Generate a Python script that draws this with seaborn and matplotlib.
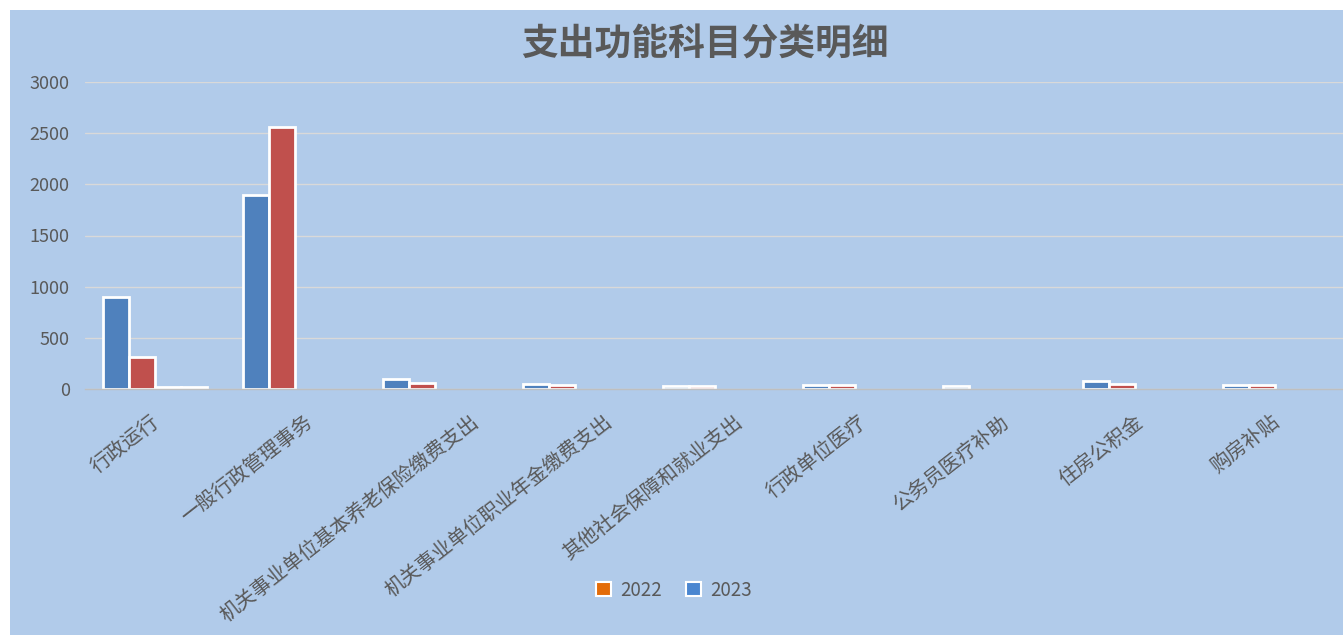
import matplotlib
matplotlib.use("Agg")
import matplotlib.pyplot as plt
import matplotlib.transforms as mtransforms
import seaborn as sns
import pandas as pd
from matplotlib.patches import Rectangle, Patch

categories = ["行政运行", "一般行政管理事务", "机关事业单位基本养老保险缴费支出",
              "机关事业单位职业年金缴费支出", "其他社会保障和就业支出", "行政单位医疗",
              "公务员医疗补助", "住房公积金", "购房补贴"]
series_names = ["s1", "s2", "s3", "s4"]
s1_values = [900, 1900, 100, 45, 25, 40, 25, 75, 35]
s2_values = [310, 2560, 60, 35, 25, 40, 0, 50, 35]
s3_values = [20, 0, 0, 0, 0, 0, 0, 0, 0]
s4_values = [20, 0, 0, 0, 0, 0, 0, 0, 0]
legend_labels = ["2022", "2023"]
yticks = [0, 500, 1000, 1500, 2000, 2500, 3000]

rows = []
for name, vals in zip(series_names, [s1_values, s2_values, s3_values, s4_values]):
    for c, v in zip(categories, vals):
        rows.append({"cat": c, "series": name, "val": v})
df = pd.DataFrame(rows)

sns.set_style("white")
plt.rcParams['font.family'] = ['Noto Sans CJK SC', 'DejaVu Sans']

W, H = 1343, 635
fig = plt.figure(figsize=(W / 100, H / 100), dpi=100)
fig.patch.set_facecolor("white")
bg = "#B1CBEA"
fig.patches.append(Rectangle((10 / W, 0), 1, 1 - 10 / H, transform=fig.transFigure,
                             facecolor=bg, edgecolor="none", zorder=-10))

ax = fig.add_axes([85 / W, 1 - 389 / H, 1260 / W, (389 - 82) / H])
ax.set_facecolor("none")

blue = "#4F81BD"
red = "#C0504D"
sns.barplot(data=df, x="cat", y="val", hue="series", order=categories,
            hue_order=series_names, palette=[blue, red, blue, red],
            edgecolor="white", linewidth=2, width=0.743, legend=False, ax=ax,
            saturation=1)
for p in ax.patches:
    if p.get_height() == 0:
        p.set_linewidth(0)

ax.set_xlim(-0.5, 8.5)
ax.set_ylim(0, 3000)
ax.set_yticks(yticks)
ax.set_yticklabels([str(t) for t in yticks], fontsize=13, color="#595959")
ax.yaxis.grid(True, color="#D9D9D9", linewidth=1)
ax.set_axisbelow(True)
for s in ["top", "right", "left"]:
    ax.spines[s].set_visible(False)
ax.spines["bottom"].set_color("#BFBFBF")
ax.spines["bottom"].set_linewidth(1)
ax.tick_params(axis="y", length=0, pad=11)
ax.set_xticks(range(len(categories)))
ax.set_xticklabels([])
ax.tick_params(axis="x", which="major", length=0)
ax.set_xticks([i - 0.5 for i in range(len(categories) + 1)], minor=True)
ax.tick_params(axis="x", which="minor", length=5, color="#BFBFBF", width=1)
ax.set_xlabel("")
ax.set_ylabel("")

# category labels (rotated), placed below the axis
base = mtransforms.blended_transform_factory(ax.transData, ax.transAxes)
for i, lab in enumerate(categories):
    dx = 3.3 * len(lab) - 11
    off = mtransforms.ScaledTranslation(dx / 100, -31 / 100, fig.dpi_scale_trans)
    ax.text(i, 0, lab, transform=base + off, rotation=38, ha="right", va="center",
            rotation_mode="anchor", fontsize=14.5, color="#595959")

fig.text(705 / W, 1 - 45 / H, "支出功能科目分类明细", ha="center", va="center",
         fontsize=26.5, fontweight="bold", color="#595959")

handles = [Patch(facecolor="#E36C09", edgecolor="white", linewidth=1.5),
           Patch(facecolor="#4A86D0", edgecolor="white", linewidth=1.5)]
fig.legend(handles, legend_labels, loc="center", bbox_to_anchor=(674 / W, 1 - 590 / H),
           ncol=2, frameon=False, fontsize=13.5, labelcolor="#595959",
           handlelength=0.8, handleheight=0.8, handletextpad=0.5, columnspacing=1.3)

fig.savefig("out.png", dpi=100, facecolor=fig.get_facecolor())
